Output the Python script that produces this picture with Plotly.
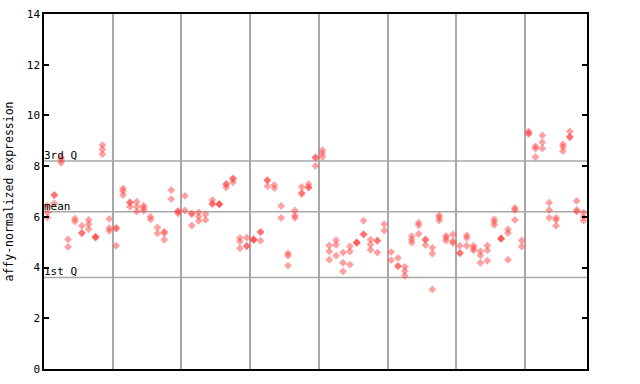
import plotly.graph_objects as go

# Expression values per sample column (replicates)
column_values = [
    [6.44, 6.18, 5.97], [6.85, 6.87, 6.53], [8.34, 8.24, 8.13], [5.11, 4.82],
    [5.93, 5.82], [5.65, 5.37, 5.35], [5.88, 5.71, 5.52], [5.22, 5.20, 5.18],
    [8.83, 8.66, 8.47], [5.92, 5.55, 5.45], [5.56, 5.54, 4.86], [7.12, 7.02, 6.86],
    [6.58, 6.56, 6.39], [6.60, 6.40, 6.21], [6.44, 6.35, 6.25], [6.00, 5.90],
    [5.58, 5.35], [5.42, 5.35, 5.10], [7.06, 6.70], [6.23, 6.21, 6.13],
    [6.83, 6.25], [6.13, 6.11, 5.66], [6.18, 6.01, 5.84], [6.10, 5.88],
    [6.66, 6.52, 6.50], [6.51, 6.50, 6.49], [7.30, 7.28, 7.16], [7.52, 7.50, 7.36],
    [5.17, 5.03, 4.76], [5.18, 4.86, 4.84], [5.12, 5.10, 5.09], [5.41, 5.39, 5.06],
    [7.45, 7.43, 7.21], [7.26, 7.13], [6.43, 5.96], [4.56, 4.47, 4.08],
    [6.25, 6.05, 5.96], [7.18, 6.95, 6.90], [7.29, 7.17, 7.15], [8.35, 8.33, 8.01],
    [8.63, 8.50, 8.36], [4.87, 4.64, 4.31], [5.08, 4.90, 4.47], [4.59, 4.19, 3.85],
    [4.83, 4.63, 4.12], [5.00, 4.98, 4.97], [5.85, 5.32, 5.30], [5.10, 4.91, 4.70],
    [5.07, 5.05, 4.59], [5.71, 5.46], [4.61, 4.29], [4.38, 4.07, 4.05],
    [4.03, 3.86, 3.68], [5.24, 5.10, 4.98], [5.77, 5.67, 5.33], [5.11, 5.09, 4.89],
    [4.78, 4.55, 3.14], [6.06, 5.97, 5.86], [5.25, 5.17, 5.06], [5.31, 5.04, 4.97],
    [4.86, 4.58, 4.56], [5.27, 5.17, 4.86], [4.86, 4.77, 4.68], [4.64, 4.48, 4.19],
    [4.87, 4.68, 4.27], [5.91, 5.80, 5.68], [5.16, 5.14, 5.13], [5.51, 5.36, 4.31],
    [6.35, 6.27, 5.88], [5.07, 4.83], [9.37, 9.29, 9.27], [8.78, 8.70, 8.36],
    [9.21, 8.94, 8.70], [6.56, 6.27, 5.96], [5.96, 5.88, 5.65], [8.86, 8.76, 8.59],
    [9.37, 9.16, 9.14], [6.63, 6.27, 6.21], [6.17, 6.00, 5.85],
]

group_boundaries = [9.5, 19.5, 29.5, 39.5, 49.5, 59.5, 69.5]
quantile_lines = {"3rd Q": 8.2, "mean": 6.2, "1st Q": 3.61}
y_ticks = [0, 2, 4, 6, 8, 10, 12, 14]

xs, ys = [], []
for i, vals in enumerate(column_values):
    for v in vals:
        xs.append(i)
        ys.append(v)

font = dict(family="DejaVu Sans Mono", size=11, color="black")
title_font = dict(family="DejaVu Sans Mono", size=11.5, color="black")

fig = go.Figure()
fig.add_trace(go.Scatter(
    x=xs, y=ys, mode="markers",
    marker=dict(symbol="diamond", size=6, color="#ff4444", opacity=0.5,
                line=dict(width=0)),
    hoverinfo="y", showlegend=False,
))

for label, val in quantile_lines.items():
    fig.add_shape(type="line", xref="paper", x0=0, x1=1, yref="y", y0=val, y1=val,
                  line=dict(color="#a8a8a8", width=1.5), layer="below")
    fig.add_annotation(xref="paper", x=0, xanchor="left", yref="y", y=val,
                       yanchor="bottom", text=label, showarrow=False,
                       font=font, xshift=-2, yshift=-3)

fig.update_layout(
    width=640, height=384,
    margin=dict(l=44, r=53, t=14, b=15),
    plot_bgcolor="white", paper_bgcolor="white",
    font=font,
    xaxis=dict(range=[-0.5, len(column_values) - 0.5], tickvals=group_boundaries,
               showticklabels=False, ticks="", showgrid=True, automargin=False,
               gridcolor="#a8a8a8", gridwidth=1.5, zeroline=False,
               showline=True, linecolor="black", linewidth=1.5, mirror=True),
    yaxis=dict(range=[0, 14], tickvals=y_ticks, ticks="inside", ticklen=5,
               tickcolor="black", tickwidth=1.5, showgrid=False, zeroline=False,
               automargin=False,
               showline=True, linecolor="black", linewidth=1.5, mirror="ticks",
               title=dict(text="affy-normalized expression", font=title_font, standoff=11),
               tickfont=font),
)

fig.write_html("out.html")
